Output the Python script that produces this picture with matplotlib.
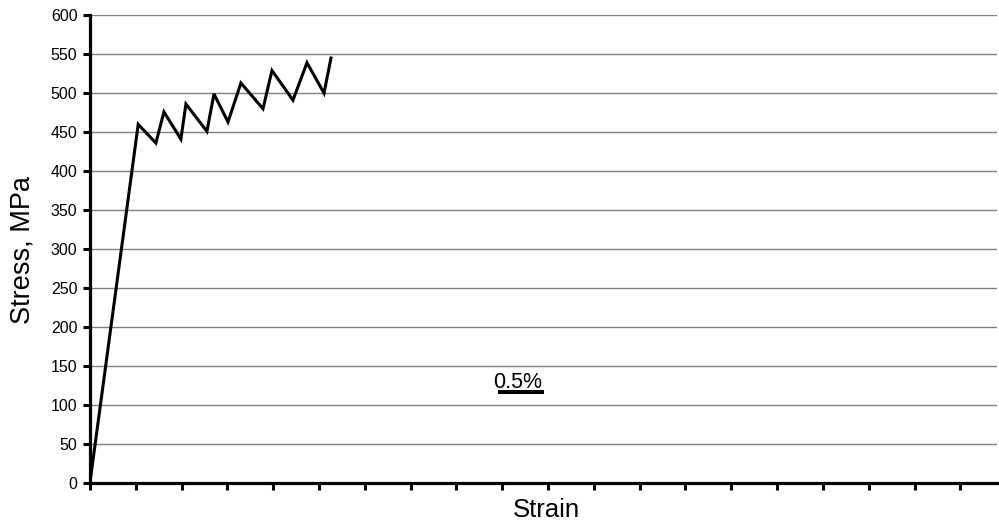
import matplotlib
matplotlib.use("Agg")
import matplotlib.pyplot as plt
import numpy as np

strain = [0.0, 0.527, 0.720, 0.808, 0.993, 1.048, 1.277, 1.354, 1.507,
          1.648, 1.889, 1.987, 2.216, 2.369, 2.555, 2.631]
stress = [0, 460, 436, 476, 441, 486, 451, 499, 463,
          513, 480, 529, 491, 539, 500, 545]
y_ticks = list(range(0, 601, 50))
x_ticks = list(np.arange(0, 9.51, 0.5))
scale_bar = [4.455, 4.957]
scale_bar_y = 116.3
scale_label = "0.5%"

FAM = ['Liberation Sans', 'DejaVu Sans']
plt.rcParams['font.family'] = FAM

fig = plt.figure(figsize=(9.99, 5.23), dpi=100)
ax = fig.add_axes([0.090, 0.0765, 0.908, 0.8945])

for t in y_ticks[1:]:
    ax.axhline(t, color='#808080', lw=1.0, zorder=1)

ax.plot(strain, stress, color='black', lw=2.2, zorder=3, solid_joinstyle='miter')

ax.plot(scale_bar, [scale_bar_y, scale_bar_y], color='black', lw=2.9, solid_capstyle='butt')
ax.text(4.667, 122, scale_label, ha='center', va='baseline', fontsize=15.5, family=FAM)

ax.set_xlim(0, 9.90)
ax.set_ylim(0, 600)
ax.set_xticks(x_ticks)
ax.set_xticklabels([])
ax.set_yticks(y_ticks)
ax.set_yticklabels([str(v) for v in y_ticks], fontsize=11.5, family=FAM)
ax.tick_params(axis='both', direction='out', length=5, width=2.2, color='black', pad=4)

for s in ['top', 'right']:
    ax.spines[s].set_visible(False)
for s in ['left', 'bottom']:
    ax.spines[s].set_linewidth(2.3)
    ax.spines[s].set_color('black')

ax.set_xlabel('Strain', fontsize=18.5, family=FAM)
ax.xaxis.set_label_coords(0.503, -0.033)
ax.set_ylabel('Stress, MPa', fontsize=19.5, family=FAM)
ax.yaxis.set_label_coords(-0.060, 0.497)

fig.savefig('out.png', dpi=100)
